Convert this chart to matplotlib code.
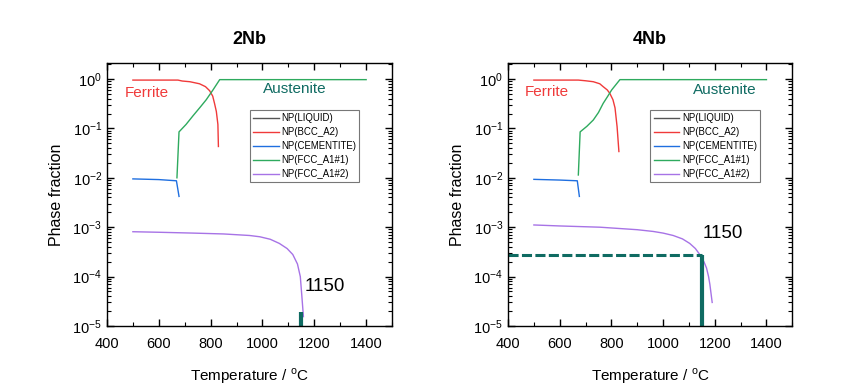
import numpy as np
import matplotlib
matplotlib.use("Agg")
import matplotlib.pyplot as plt
from matplotlib.ticker import LogLocator, MultipleLocator, NullFormatter

plt.rcParams['font.family'] = ['Liberation Sans', 'DejaVu Sans']
plt.rcParams['mathtext.fontset'] = 'custom'
plt.rcParams['mathtext.rm'] = 'Liberation Sans'

# ---- data ----
titles = ['2Nb', '4Nb']
legend_labels = ['NP(LIQUID)', 'NP(BCC_A2)', 'NP(CEMENTITE)', 'NP(FCC_A1#1)', 'NP(FCC_A1#2)']

# 2Nb
bcc_T_2 = [500, 600, 674, 690, 720, 757, 780, 796, 808, 815, 822, 828, 830]
bcc_y_2 = [0.95, 0.95, 0.95, 0.91, 0.88, 0.8, 0.7, 0.58, 0.45, 0.32, 0.22, 0.12, 0.043]
fcc1_T_2 = [670, 678, 705, 732, 760, 783, 809, 835, 1000, 1200, 1400]
fcc1_y_2 = [0.01, 0.085, 0.12, 0.18, 0.27, 0.38, 0.6, 0.97, 0.97, 0.97, 0.97]
cem_T_2 = [500, 600, 668, 678]
cem_y_2 = [0.0095, 0.0092, 0.0087, 0.0042]
fcc2_T_2 = [500, 600, 732, 850, 950, 990, 1030, 1065, 1095, 1117, 1135, 1146, 1152, 1158]
fcc2_y_2 = [8.1e-4, 7.9e-4, 7.6e-4, 7.3e-4, 6.8e-4, 6.4e-4, 5.7e-4, 4.7e-4, 3.7e-4, 2.8e-4, 1.8e-4, 1.0e-4, 4.0e-5, 1.55e-5]

# 4Nb
bcc_T_4 = [500, 600, 672, 700, 730, 755, 768, 784, 794, 806, 814, 822, 829]
bcc_y_4 = [0.95, 0.95, 0.95, 0.92, 0.88, 0.8, 0.7, 0.6, 0.51, 0.38, 0.26, 0.108, 0.034]
fcc1_T_4 = [672, 679, 705, 730, 750, 768, 785, 801, 833, 1000, 1200, 1400]
fcc1_y_4 = [0.0114, 0.085, 0.11, 0.148, 0.21, 0.32, 0.44, 0.6, 0.97, 0.97, 0.97, 0.97]
cem_T_4 = [500, 600, 668, 676]
cem_y_4 = [0.0093, 0.009, 0.0087, 0.0042]
fcc2_T_4 = [500, 600, 756, 900, 962, 1000, 1039, 1075, 1103, 1125, 1142, 1158, 1168, 1176, 1181, 1190]
fcc2_y_4 = [1.11e-3, 1.06e-3, 1.0e-3, 8.9e-4, 8.2e-4, 7.6e-4, 6.8e-4, 5.8e-4, 4.7e-4, 3.7e-4, 2.8e-4, 2.0e-4, 1.5e-4, 1.0e-4, 7.0e-5, 3.0e-5]

marker_T = 1150
marker_top_2 = 1.9e-5   # short bar in 2Nb
marker_top_4 = 2.7e-4   # dashed level in 4Nb

panels = [
    dict(bcc=(bcc_T_2, bcc_y_2), fcc1=(fcc1_T_2, fcc1_y_2), cem=(cem_T_2, cem_y_2),
         fcc2=(fcc2_T_2, fcc2_y_2)),
    dict(bcc=(bcc_T_4, bcc_y_4), fcc1=(fcc1_T_4, fcc1_y_4), cem=(cem_T_4, cem_y_4),
         fcc2=(fcc2_T_4, fcc2_y_4)),
]

c_liq = '#555555'
c_bcc = '#f03a3a'
c_cem = '#1f6fe0'
c_fcc1 = '#2eaa5e'
c_fcc2 = '#a773e6'
c_teal = '#0f6b62'

fig = plt.figure(figsize=(8.51, 3.85), dpi=100)
axes = [fig.add_axes([0.1257, 0.1532, 0.335, 0.683]),
        fig.add_axes([0.597, 0.1532, 0.334, 0.683])]

for i, ax in enumerate(axes):
    p = panels[i]
    ax.plot([], [], color=c_liq, lw=1.0, label=legend_labels[0])
    ax.plot(*p['bcc'], color=c_bcc, lw=1.0, label=legend_labels[1])
    ax.plot(*p['cem'], color=c_cem, lw=1.0, label=legend_labels[2])
    ax.plot(*p['fcc1'], color=c_fcc1, lw=1.0, label=legend_labels[3])
    ax.plot(*p['fcc2'], color=c_fcc2, lw=1.0, label=legend_labels[4])

    ax.set_yscale('log')
    ax.set_xlim(400, 1500)
    ax.set_ylim(1e-5, 2.1)
    ax.xaxis.set_major_locator(MultipleLocator(200))
    ax.xaxis.set_minor_locator(MultipleLocator(100))
    ax.yaxis.set_major_locator(LogLocator(base=10, numticks=10))
    ax.yaxis.set_minor_locator(LogLocator(base=10, subs=np.arange(2, 10), numticks=20))
    ax.yaxis.set_minor_formatter(NullFormatter())
    ax.tick_params(which='both', direction='in', top=True, right=True, labelsize=10.5)
    ax.tick_params(which='major', length=5, width=1)
    ax.tick_params(which='minor', length=3, width=0.8)
    ax.tick_params(axis='x', which='major', pad=8)
    for s in ax.spines.values():
        s.set_linewidth(1)

    ax.set_title(titles[i], fontsize=13, fontweight='bold', pad=14)
    ax.set_xlabel('Temperature / $^{\\mathrm{o}}$C', fontsize=11, labelpad=11)
    ax.set_ylabel('Phase fraction', fontsize=11.5, labelpad=6)

    leg = ax.legend(loc='upper left', bbox_to_anchor=(0.5, 0.823), fontsize=6.9,
                    frameon=True, fancybox=False, edgecolor='#555555',
                    handlelength=2.7, handletextpad=0.25, borderpad=0.35,
                    labelspacing=0.42, borderaxespad=0)
    leg.get_frame().set_linewidth(0.8)

axes[0].text(469, 0.52, 'Ferrite', color=c_bcc, fontsize=11, va='center')
axes[0].text(1001, 0.63, 'Austenite', color=c_teal, fontsize=11, va='center')
axes[0].plot([marker_T, marker_T], [1e-5, marker_top_2], color=c_teal, lw=3, solid_capstyle='butt')
axes[0].text(1162, 6.3e-5, '1150', fontsize=13.5, va='center')

axes[1].text(466, 0.55, 'Ferrite', color=c_bcc, fontsize=11, va='center')
axes[1].text(1114, 0.6, 'Austenite', color=c_teal, fontsize=11, va='center')
axes[1].plot([400, marker_T], [marker_top_4, marker_top_4], color=c_teal, lw=2.2,
             dashes=(3.3, 1.1))
axes[1].plot([marker_T, marker_T], [1e-5, marker_top_4], color=c_teal, lw=3, solid_capstyle='butt')
axes[1].text(1152, 7.6e-4, '1150', fontsize=13.5, va='center')

fig.savefig('out.png', dpi=100)
